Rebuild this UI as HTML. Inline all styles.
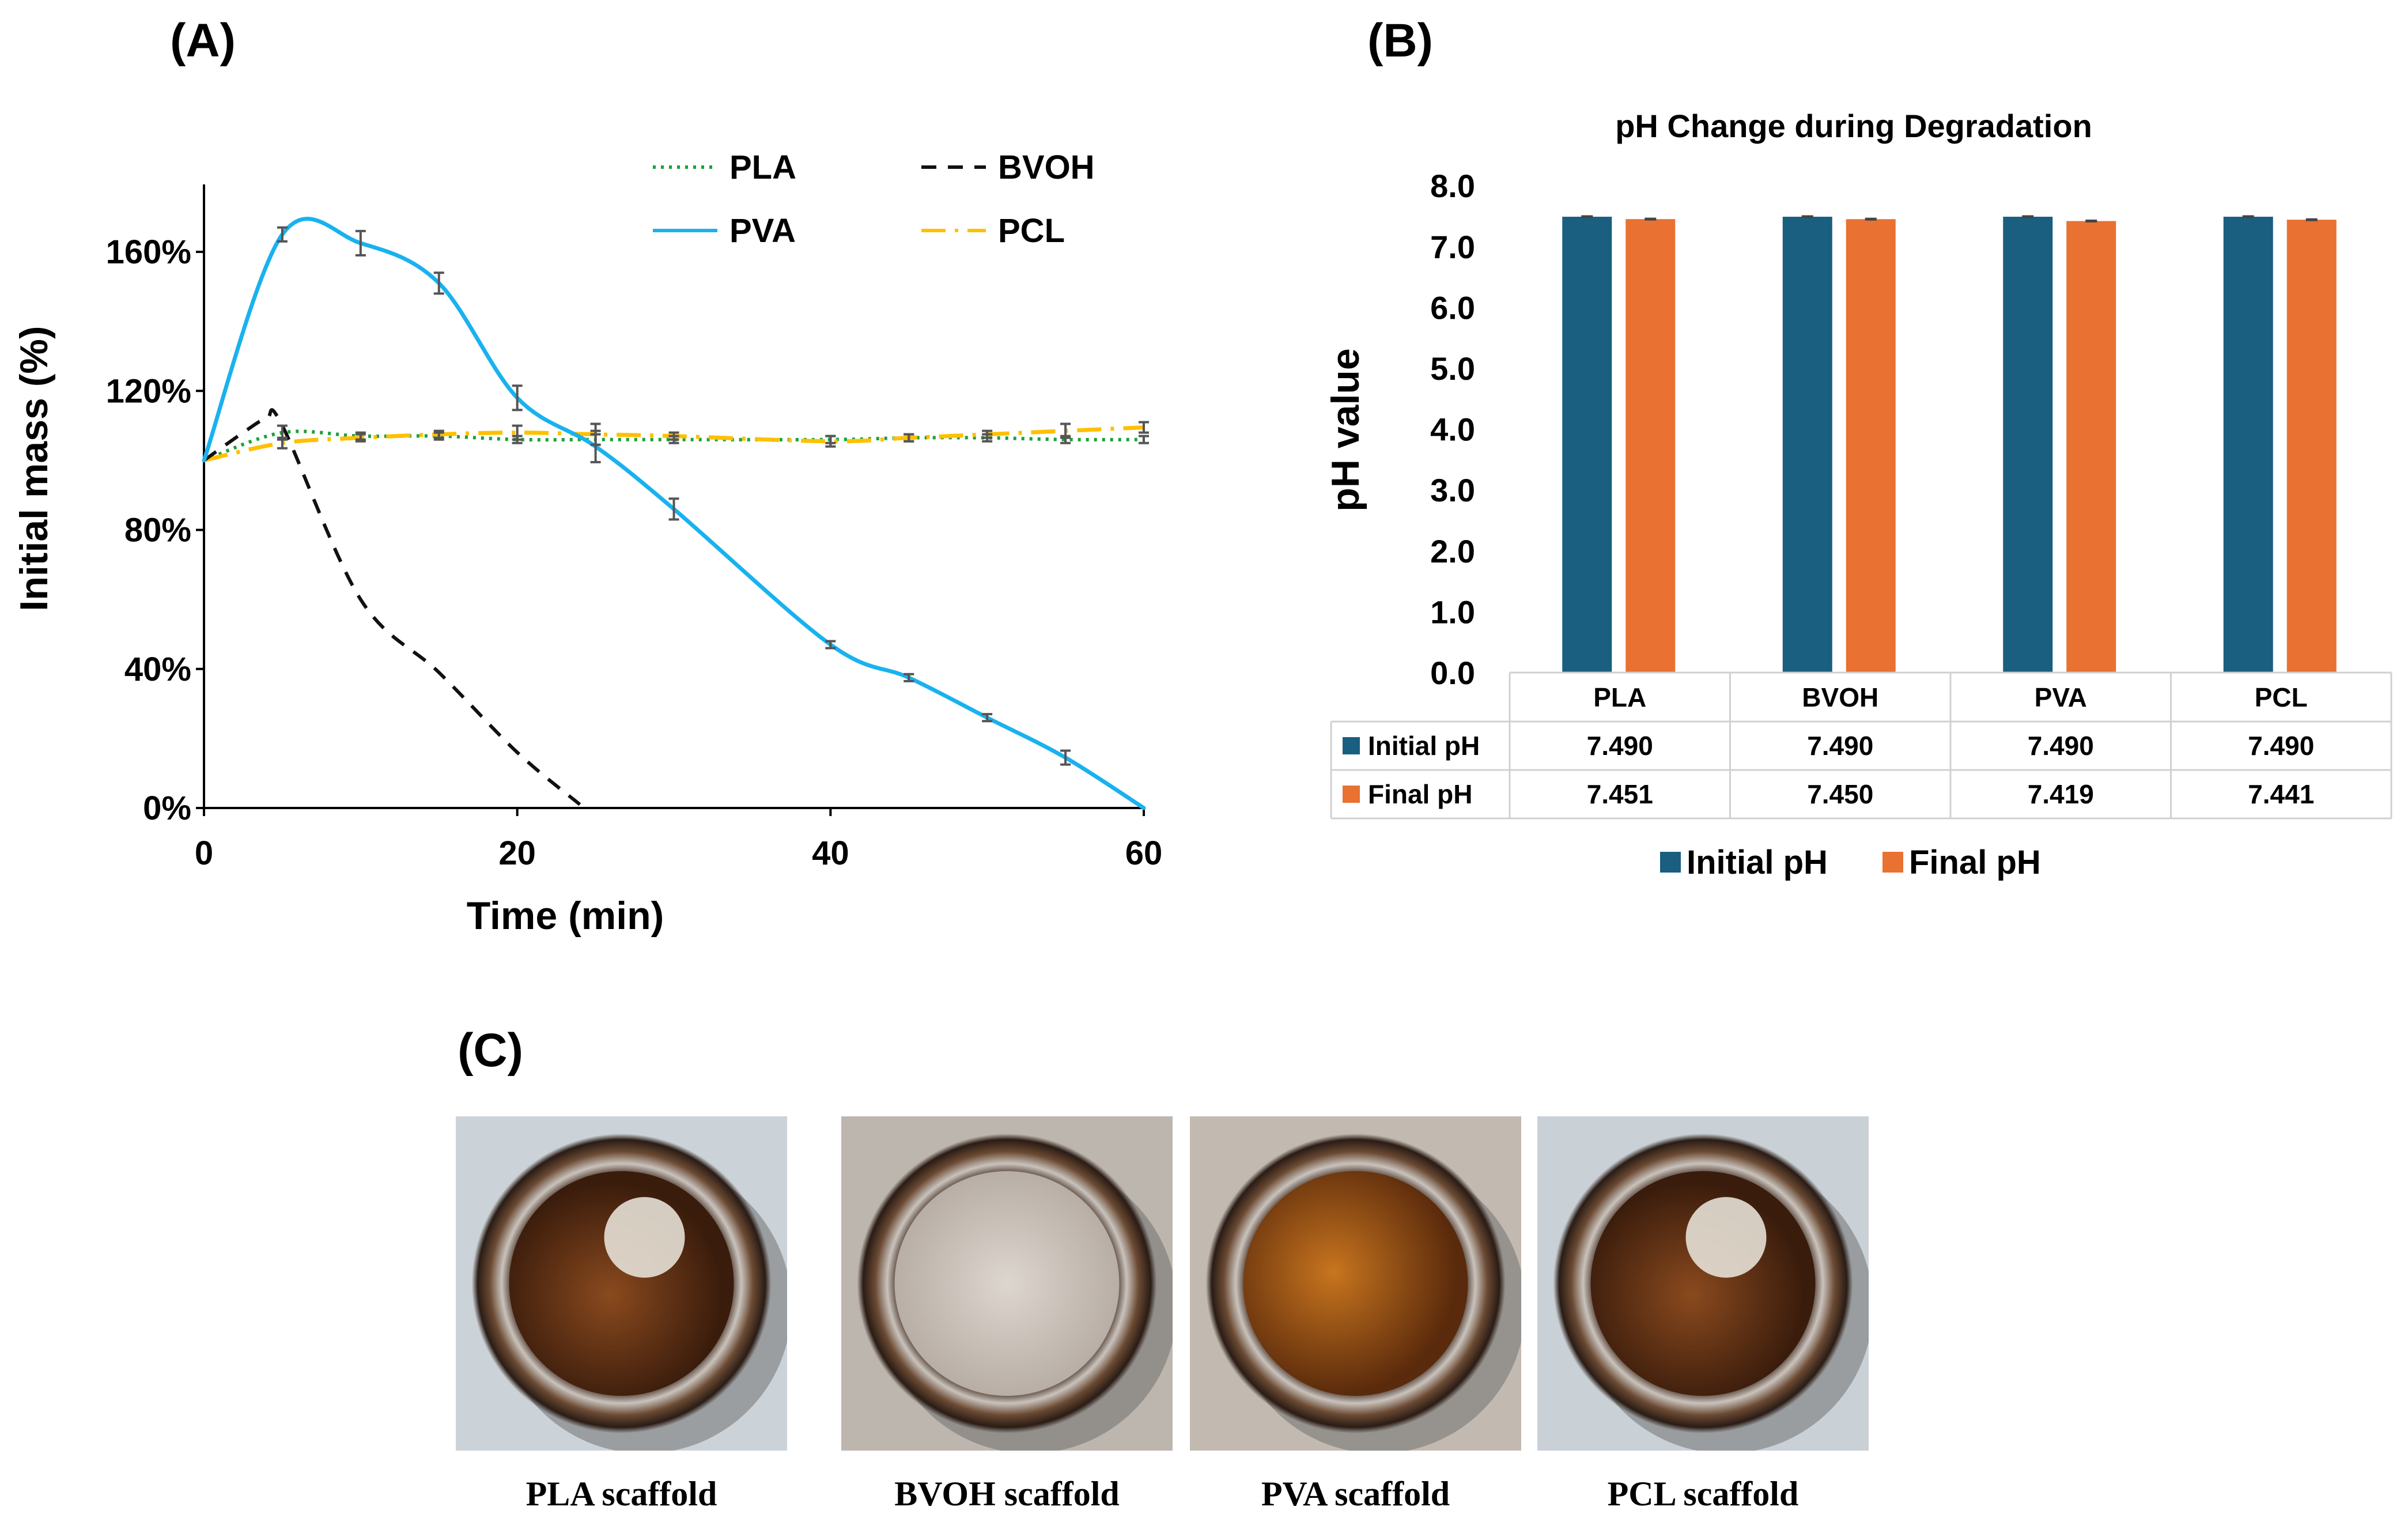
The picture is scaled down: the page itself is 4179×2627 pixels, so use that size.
<!DOCTYPE html>
<html><head><meta charset="utf-8"><style>
html,body{margin:0;padding:0;background:#fff;}
svg{display:block;}
text{font-family:"Liberation Sans",Arial,sans-serif;}
text.serif{font-family:"Liberation Serif","Times New Roman",serif;}
</style></head><body>
<svg id="fig" width="4179" height="2627" viewBox="0 0 4179 2627" xmlns="http://www.w3.org/2000/svg">
<defs>
<radialGradient id="rimG" cx="50%" cy="50%" r="50%"><stop offset="0.72" stop-color="#3a2214"/><stop offset="0.8" stop-color="#c9c3bd"/><stop offset="0.88" stop-color="#6b4a33"/><stop offset="0.96" stop-color="#2a1c15"/><stop offset="1" stop-color="#2a1c15" stop-opacity="0"/></radialGradient>
<radialGradient id="liqBrown" cx="45%" cy="55%" r="50%"><stop offset="0" stop-color="#8a4a1e"/><stop offset="1" stop-color="#3a1c0c"/></radialGradient>
<radialGradient id="liqAmber" cx="40%" cy="45%" r="55%"><stop offset="0" stop-color="#c8751e"/><stop offset="1" stop-color="#5a2a0c"/></radialGradient>
<radialGradient id="liqWhite" cx="50%" cy="50%" r="50%"><stop offset="0" stop-color="#ddd6cf"/><stop offset="1" stop-color="#b8aea5"/></radialGradient>
</defs>
<text x="352" y="98" font-size="82" font-weight="bold" text-anchor="middle">(A)</text>
<text x="2430" y="98" font-size="82" font-weight="bold" text-anchor="middle">(B)</text>
<text x="851" y="1850" font-size="82" font-weight="bold" text-anchor="middle">(C)</text>
<g id="chartA"></g>
<g id="chartB"></g>
<g id="photos"></g>
</svg>
<script>
const NS="http://www.w3.org/2000/svg";
function mk(p,tag,attrs,txt){const e=document.createElementNS(NS,tag);for(const k in attrs)e.setAttribute(k,attrs[k]);if(txt!==undefined)e.textContent=txt;p.appendChild(e);return e;}

// ---------- Chart A data ----------
const timesPVA=[0,5,10,15,20,25,30,40,45,50,55,60];
const massPVA=[100,165,162.5,151,118,104,86,47,37.5,26,14.5,0];
const errPVA=[0,2,3.5,3,3.5,4.5,3,1,1,1,2,0];
const timesBVOH=[0,2.5,4,5,10,15,20,24];
const massBVOH=[100,108,112,110,60,39,16,1];
const timesPLA=[0,5,10,15,20,25,30,40,45,50,55,60];
const massPLA=[100,108,107,107,106,106,106,106,106.5,106.5,106,106];
const errPLA=[0,2,1,1,1,1.5,1,1,1,1,1,1];
const timesPCL=[0,5,10,15,20,25,30,40,45,50,55,60];
const massPCL=[100,105,106.5,107.5,108,107.5,107,105.5,106.5,107.5,108.5,109.5];
const errPCL=[0,1.5,1,1,2,3,1,1.5,1,1,2,1.5];
const xTicksA=[0,20,40,60];
const yTicksA=[0,40,80,120,160];

const X0=354,X1=1985,Y0=1402,YP=241.25/40;
const xA=t=>X0+(X1-X0)*t/60;
const yA=v=>Y0-v*YP;

function smoothPath(xs,ys){
  const P=xs.map((x,i)=>[xA(x),yA(ys[i])]);
  let d="M"+P[0][0]+","+P[0][1];
  for(let i=0;i<P.length-1;i++){
    const p0=P[Math.max(0,i-1)],p1=P[i],p2=P[i+1],p3=P[Math.min(P.length-1,i+2)];
    const c1=[p1[0]+(p2[0]-p0[0])/6,p1[1]+(p2[1]-p0[1])/6];
    const c2=[p2[0]-(p3[0]-p1[0])/6,p2[1]-(p3[1]-p1[1])/6];
    d+=" C"+c1[0]+","+c1[1]+" "+c2[0]+","+c2[1]+" "+p2[0]+","+p2[1];
  }
  return d;
}
const gA=document.getElementById('chartA');
let ax=mk(gA,'line',{x1:X0,y1:320,x2:X0,y2:Y0,stroke:'#000','stroke-width':4});


ax=mk(gA,'line',{x1:X0,y1:Y0,x2:X1,y2:Y0,stroke:'#000','stroke-width':4});


yTicksA.forEach(v=>{
  mk(gA,'line',{x1:X0-14,y1:yA(v),x2:X0,y2:yA(v),stroke:'#000','stroke-width':4});
  const t=mk(gA,'text',{x:X0-22,y:yA(v)+20,'font-size':58,'font-weight':'bold','text-anchor':'end'},v+'%');
  
  
});
xTicksA.forEach(v=>{
  mk(gA,'line',{x1:xA(v),y1:Y0,x2:xA(v),y2:Y0+14,stroke:'#000','stroke-width':4});
  const t=mk(gA,'text',{x:xA(v),y:1500,'font-size':58,'font-weight':'bold','text-anchor':'middle'},v);
  
  
});
let tt=mk(gA,'text',{x:981,y:1612,'font-size':68,'font-weight':'bold','text-anchor':'middle'},'Time (min)');


tt=mk(gA,'text',{x:0,y:0,'font-size':68,'font-weight':'bold','text-anchor':'middle',transform:'translate(82,813) rotate(-90)'},'Initial mass (%)');


function series(xs,ys,col,dash,w,name){
  const p=mk(gA,'path',{d:smoothPath(xs,ys),fill:'none',stroke:col,'stroke-width':w,'stroke-dasharray':dash,'stroke-linecap':dash?'butt':'round'});
  
  
}
series(timesPLA,massPLA,'#1aa33a','5 9',6,'pla-line');
series(timesPCL,massPCL,'#ffc000','42 16 6 16',7,'pcl-line');
series(timesBVOH,massBVOH,'#111','26 20',6,'bvoh-line');
series(timesPVA,massPVA,'#19b2ee','',7,'pva-line');
function errs(xs,ys,es,name){
  xs.forEach((t,i)=>{ if(!es[i])return;
    const g=mk(gA,'g',{stroke:'#555','stroke-width':4});
    
    
    const x=xA(t),a=yA(ys[i]+es[i]),b=yA(ys[i]-es[i]);
    mk(g,'line',{x1:x,y1:a,x2:x,y2:b});mk(g,'line',{x1:x-9,y1:a,x2:x+9,y2:a});mk(g,'line',{x1:x-9,y1:b,x2:x+9,y2:b});
  });
}
errs(timesPVA,massPVA,errPVA,'pva-error-bar');
errs(timesPLA,massPLA,errPLA,'pla-error-bar');
errs(timesPCL,massPCL,errPCL,'pcl-error-bar');
const legA=[['PLA','#1aa33a','5 9',1133,290],['BVOH','#111','26 20',1599,290],['PVA','#19b2ee','',1133,400],['PCL','#ffc000','42 16 6 16',1599,400]];
legA.forEach(l=>{
  const g=mk(gA,'g',{});
  
  
  mk(g,'line',{x1:l[3],y1:l[4],x2:l[3]+112,y2:l[4],stroke:l[1],'stroke-width':6,'stroke-dasharray':l[2]});
  mk(g,'text',{x:l[3]+133,y:l[4]+20,'font-size':58,'font-weight':'bold'},l[0]);
});

// ---------- Chart B data ----------
const categoriesB=['PLA','BVOH','PVA','PCL'];
const initialPH=[7.490,7.490,7.490,7.490];
const finalPH=[7.451,7.450,7.419,7.441];
const yTicksB=[0,1,2,3,4,5,6,7,8];
const gB=document.getElementById('chartB');
const BY0=1167,BYU=105.6,BX0=2620,COLW=382.5;
const yB=v=>BY0-v*BYU;
const cx=i=>BX0+COLW*(i+0.5);
tt=mk(gB,'text',{x:3217,y:238,'font-size':56,'font-weight':'bold','text-anchor':'middle'},'pH Change during Degradation');


tt=mk(gB,'text',{x:0,y:0,'font-size':68,'font-weight':'bold','text-anchor':'middle',transform:'translate(2358,746) rotate(-90)'},'pH value');


yTicksB.forEach(v=>{
  const t=mk(gB,'text',{x:2560,y:yB(v)+20,'font-size':56,'font-weight':'bold','text-anchor':'end'},v.toFixed(1));
  
  
});
categoriesB.forEach((c,i)=>{
  let r=mk(gB,'rect',{x:cx(i)-100,y:yB(initialPH[i]),width:86,height:yB(0)-yB(initialPH[i]),fill:'#1a5e80'});
  
  
  r=mk(gB,'rect',{x:cx(i)+10,y:yB(finalPH[i]),width:86,height:yB(0)-yB(finalPH[i]),fill:'#e97132'});
  
  
  [[cx(i)-57,initialPH[i]],[cx(i)+53,finalPH[i]]].forEach(p=>{
    const e=mk(gB,'line',{x1:p[0]-10,y1:yB(p[1]),x2:p[0]+10,y2:yB(p[1]),stroke:'#444','stroke-width':5});
    
    
  });
});
const tb=mk(gB,'g',{stroke:'#d0d0d0','stroke-width':3,fill:'none'});


mk(tb,'line',{x1:BX0,y1:1167,x2:4150,y2:1167});
mk(tb,'line',{x1:2310,y1:1252,x2:4150,y2:1252});
mk(tb,'line',{x1:2310,y1:1336,x2:4150,y2:1336});
mk(tb,'line',{x1:2310,y1:1420,x2:4150,y2:1420});
mk(tb,'line',{x1:2310,y1:1252,x2:2310,y2:1420});
for(let i=0;i<=4;i++)mk(tb,'line',{x1:BX0+COLW*i,y1:1167,x2:BX0+COLW*i,y2:1420});
categoriesB.forEach((c,i)=>{
  let t=mk(gB,'text',{x:cx(i),y:1226,'font-size':46,'font-weight':'bold','text-anchor':'middle'},c);
  
  
  t=mk(gB,'text',{x:cx(i),y:1310,'font-size':46,'font-weight':'bold','text-anchor':'middle'},initialPH[i].toFixed(3));
  
  
  t=mk(gB,'text',{x:cx(i),y:1394,'font-size':46,'font-weight':'bold','text-anchor':'middle'},finalPH[i].toFixed(3));
  
  
});
[['Initial pH','#1a5e80',1294],['Final pH','#e97132',1378]].forEach(r=>{
  const g=mk(gB,'g',{});
  
  
  mk(g,'rect',{x:2330,y:r[2]-15,width:30,height:30,fill:r[1]});
  mk(g,'text',{x:2374,y:r[2]+16,'font-size':46,'font-weight':'bold'},r[0]);
});
[['Initial pH','#1a5e80',2881],['Final pH','#e97132',3267]].forEach(r=>{
  const g=mk(gB,'g',{});
  
  
  mk(g,'rect',{x:r[2],y:1478,width:36,height:36,fill:r[1]});
  mk(g,'text',{x:r[2]+46,y:1516,'font-size':58,'font-weight':'bold'},r[0]);
});

// ---------- Photos ----------
const gP=document.getElementById('photos');
const photos=[['PLA scaffold',791,'#ccd3d8','url(#liqBrown)',true],['BVOH scaffold',1460,'#bdb6ae','url(#liqWhite)',false],['PVA scaffold',2065,'#c2bab0','url(#liqAmber)',false],['PCL scaffold',2668,'#c9d0d6','url(#liqBrown)',true]];
const defs=document.querySelector('defs');
photos.forEach((p,k)=>{
  const x=p[1],y=1937,w=575,h=580,cxp=x+w/2,cyp=y+h/2;
  const cp=mk(defs,'clipPath',{id:'clip'+k});
  mk(cp,'rect',{x:x,y:y,width:w,height:h});
  const g=mk(gP,'g',{'clip-path':'url(#clip'+k+')'});
  
  
  mk(g,'rect',{x:x,y:y,width:w,height:h,fill:p[2]});
  mk(g,'ellipse',{cx:cxp+40,cy:cyp+40,rx:255,ry:255,fill:'#6a6a6a',opacity:0.5});
  mk(g,'circle',{cx:cxp,cy:cyp,r:260,fill:'url(#rimG)'});
  mk(g,'circle',{cx:cxp,cy:cyp,r:195,fill:p[3]});
  if(p[4]) mk(g,'circle',{cx:cxp+40,cy:cyp-80,r:70,fill:'#e6e0d6',opacity:0.9});
  const t=mk(gP,'text',{x:cxp,y:2612,'font-size':60,'font-weight':'bold','text-anchor':'middle','class':'serif'},p[0]);
  
  
});
</script>
</body></html>
